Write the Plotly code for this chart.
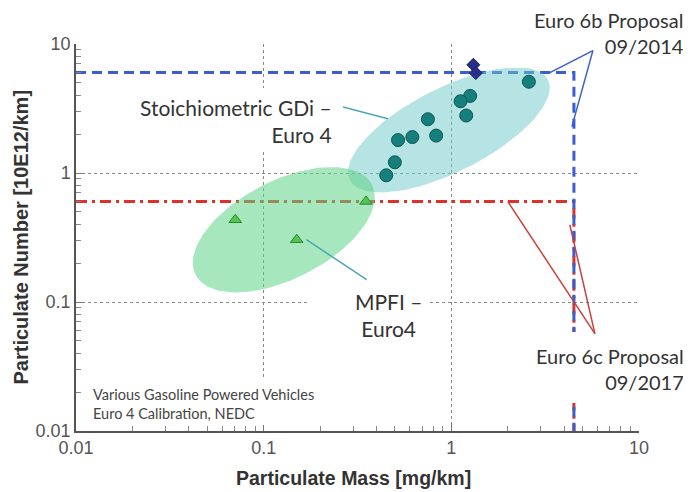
import numpy as np
import plotly.graph_objects as go

# ---------------- data ----------------
gdi_pm = [2.59, 1.26, 1.12, 1.20, 0.75, 0.83, 0.62, 0.52, 0.50, 0.45]
gdi_pn = [5.1, 3.96, 3.60, 2.79, 2.61, 1.95, 1.90, 1.80, 1.21, 0.96]

mpfi_pm = [0.0706, 0.150, 0.351]
mpfi_pn = [0.434, 0.304, 0.602]

other_pm = [1.31, 1.35]
other_pn = [6.9, 5.95]

euro6b_pm_limit = 4.5
euro6b_pn_limit = 6.0
euro6c_pm_limit = 4.5
euro6c_pn_limit = 0.6

x_tick_vals = [0.01, 0.1, 1, 10]
x_tick_text = ["0.01", "0.1", "1", "10"]
y_tick_vals = [0.01, 0.1, 1, 10]
y_tick_text = ["0.01", "0.1", "1", "10"]

# ---------------- layout geometry ----------------
OFF = 8  # page body margin offset
W, H = 691 - OFF, 492 - OFF
ML, MT = 76 - OFF, 44 - OFF
PW, PH = 563, 387
MR = W - ML - PW
MB = H - MT - PH
PXD_X = PW / 3.0
PXD_Y = PH / 3.0


def ellipse(cx, cy, a_px, b_px, ang_deg, n=120):
    t = np.linspace(0, 2 * np.pi, n)
    th = np.radians(ang_deg)
    dx = a_px * np.cos(t) * np.cos(th) - b_px * np.sin(t) * np.sin(th)
    dy = a_px * np.cos(t) * np.sin(th) + b_px * np.sin(t) * np.cos(th)
    xs = 10 ** (np.log10(cx) + dx / PXD_X)
    ys = 10 ** (np.log10(cy) + dy / PXD_Y)
    return xs, ys


fig = go.Figure()

# limit lines
fig.add_trace(go.Scatter(
    x=[0.01, euro6c_pm_limit, euro6c_pm_limit],
    y=[euro6c_pn_limit, euro6c_pn_limit, 0.01],
    mode="lines", line=dict(color="#e0302a", width=3, dash="11px,5px,3px,5px"),
    hoverinfo="skip", showlegend=False))
fig.add_trace(go.Scatter(
    x=[0.01, euro6b_pm_limit, euro6b_pm_limit],
    y=[euro6b_pn_limit, euro6b_pn_limit, 0.01],
    mode="lines", line=dict(color="#3a5fcd", width=3, dash="10px,6px"),
    hoverinfo="skip", showlegend=False))

# ellipses
ex, ey = ellipse(0.97, 2.16, 111, 42, 26.8)
fig.add_trace(go.Scatter(x=ex, y=ey, mode="lines", fill="toself",
                         fillcolor="rgba(110,200,200,0.5)", line=dict(width=0),
                         hoverinfo="skip", showlegend=False))
ex, ey = ellipse(0.128, 0.363, 99, 49, 27)
fig.add_trace(go.Scatter(x=ex, y=ey, mode="lines", fill="toself",
                         fillcolor="rgba(95,212,135,0.55)", line=dict(width=0),
                         hoverinfo="skip", showlegend=False))

# markers
fig.add_trace(go.Scatter(x=gdi_pm, y=gdi_pn, mode="markers",
                         marker=dict(symbol="circle", size=13, color="#157f7b",
                                     line=dict(color="#0b5553", width=1)),
                         showlegend=False))
fig.add_trace(go.Scatter(x=mpfi_pm, y=mpfi_pn, mode="markers",
                         marker=dict(symbol="triangle-up", size=11, color="#55c455",
                                     line=dict(color="#2a8a2a", width=1)),
                         showlegend=False))
fig.add_trace(go.Scatter(x=other_pm, y=other_pn, mode="markers",
                         marker=dict(symbol="diamond", size=10, color="#2b2d8c",
                                     line=dict(color="#1c1d66", width=1)),
                         showlegend=False))


def px2paper(px, py):
    # px, py are positions in the 691x492 window
    return (px - OFF - ML) / PW, (MT + PH - (py - OFF)) / PH


shapes = []
# white boxes behind labels (hide grid and lines)
for (x0, y0, x1, y1) in [(492, 20, 700, 68), (130, 88, 338, 150), (85, 377, 320, 425),
                         (307, 286, 430, 345), (520, 332, 700, 403)]:
    a0, b1 = px2paper(x0, y0)
    a1, b0 = px2paper(x1, y1)
    shapes.append(dict(type="rect", xref="paper", yref="paper", x0=a0, x1=a1, y0=b0, y1=b1,
                       fillcolor="white", line=dict(width=0), layer="above"))

# pointer lines (data coordinates)
pointers = [
    ((0.265, 3.25), (0.459, 2.63), "#4aa8b4"),
    ((0.169, 0.304), (0.354, 0.149), "#4aa8b4"),
    ((5.68, 8.88), (3.35, 6.0), "#3a5fcd"),
    ((5.68, 8.88), (4.39, 2.29), "#3a5fcd"),
    ((5.82, 0.0569), (2.0, 0.6), "#c8413a"),
    ((5.82, 0.0569), (4.28, 0.397), "#c8413a"),
]
for (p0, p1, c) in pointers:
    shapes.append(dict(type="line", xref="x", yref="y", x0=p0[0], y0=p0[1], x1=p1[0], y1=p1[1],
                       line=dict(color=c, width=1.5), layer="above"))

TXT = dict(family="Lato, Liberation Sans, sans-serif", color="#333333", size=21)
TXT_R = dict(family="Lato, Liberation Sans, sans-serif", color="#333333", size=20)
annotations = []


def ann(text, px, py, xanchor, align, font):
    x, y = px2paper(px, py)
    annotations.append(dict(text=text, x=x, y=y, xref="paper", yref="paper",
                            xanchor=xanchor, yanchor="middle", align=align,
                            showarrow=False, font=font))


ann("Stoichiometric GDi –<br>Euro 4", 334, 120.5, "right", "right", TXT)
ann("MPFI –<br>Euro4", 388, 314.5, "center", "center", TXT)
ann("Euro 6b Proposal<br>09/2014", 686, 32.5, "right", "right", TXT_R)
ann("Euro 6c Proposal<br>09/2017", 686, 369, "right", "right", TXT_R)
ann("Various Gasoline Powered Vehicles<br>Euro 4 Calibration, NEDC", 91, 403.5, "left", "left",
    dict(family="Lato, Liberation Sans, sans-serif", color="#444444", size=14.5))

x, y = px2paper(353.5, 478)
annotations.append(dict(text="<b>Particulate Mass [mg/km]</b>", x=x, y=y, xref="paper", yref="paper",
                        xanchor="center", yanchor="middle", showarrow=False,
                        font=dict(family="Liberation Sans, Arial, sans-serif", color="#333333",
                                  size=19.5)))
x, y = px2paper(20, 237.5)
annotations.append(dict(text="<b>Particulate Number [10E12/km]</b>", x=x, y=y, xref="paper",
                        yref="paper", xanchor="center", yanchor="middle", showarrow=False,
                        textangle=-90,
                        font=dict(family="Liberation Sans, Arial, sans-serif", color="#333333",
                                  size=20)))

axis_common = dict(
    type="log", showline=True, linecolor="#555555", linewidth=1.5,
    ticks="inside", ticklen=8, tickcolor="#777777",
    showgrid=True, gridcolor="#888888", griddash="dot", gridwidth=1,
    zeroline=False, tickmode="array",
    tickfont=dict(family="Liberation Sans, Arial, sans-serif", size=18, color="#555555"),
    minor=dict(ticks="inside", ticklen=5, tickcolor="#888888", dtick="D1", showgrid=False),
)

fig.update_layout(
    width=W, height=H,
    margin=dict(l=ML, r=MR, t=MT, b=MB),
    plot_bgcolor="white", paper_bgcolor="white",
    xaxis=dict(range=[-2, 1], tickvals=x_tick_vals, ticktext=x_tick_text, **axis_common),
    yaxis=dict(range=[-2, 1], tickvals=y_tick_vals, ticktext=y_tick_text, **axis_common),
    shapes=shapes, annotations=annotations,
)

fig.write_html("out.html")
